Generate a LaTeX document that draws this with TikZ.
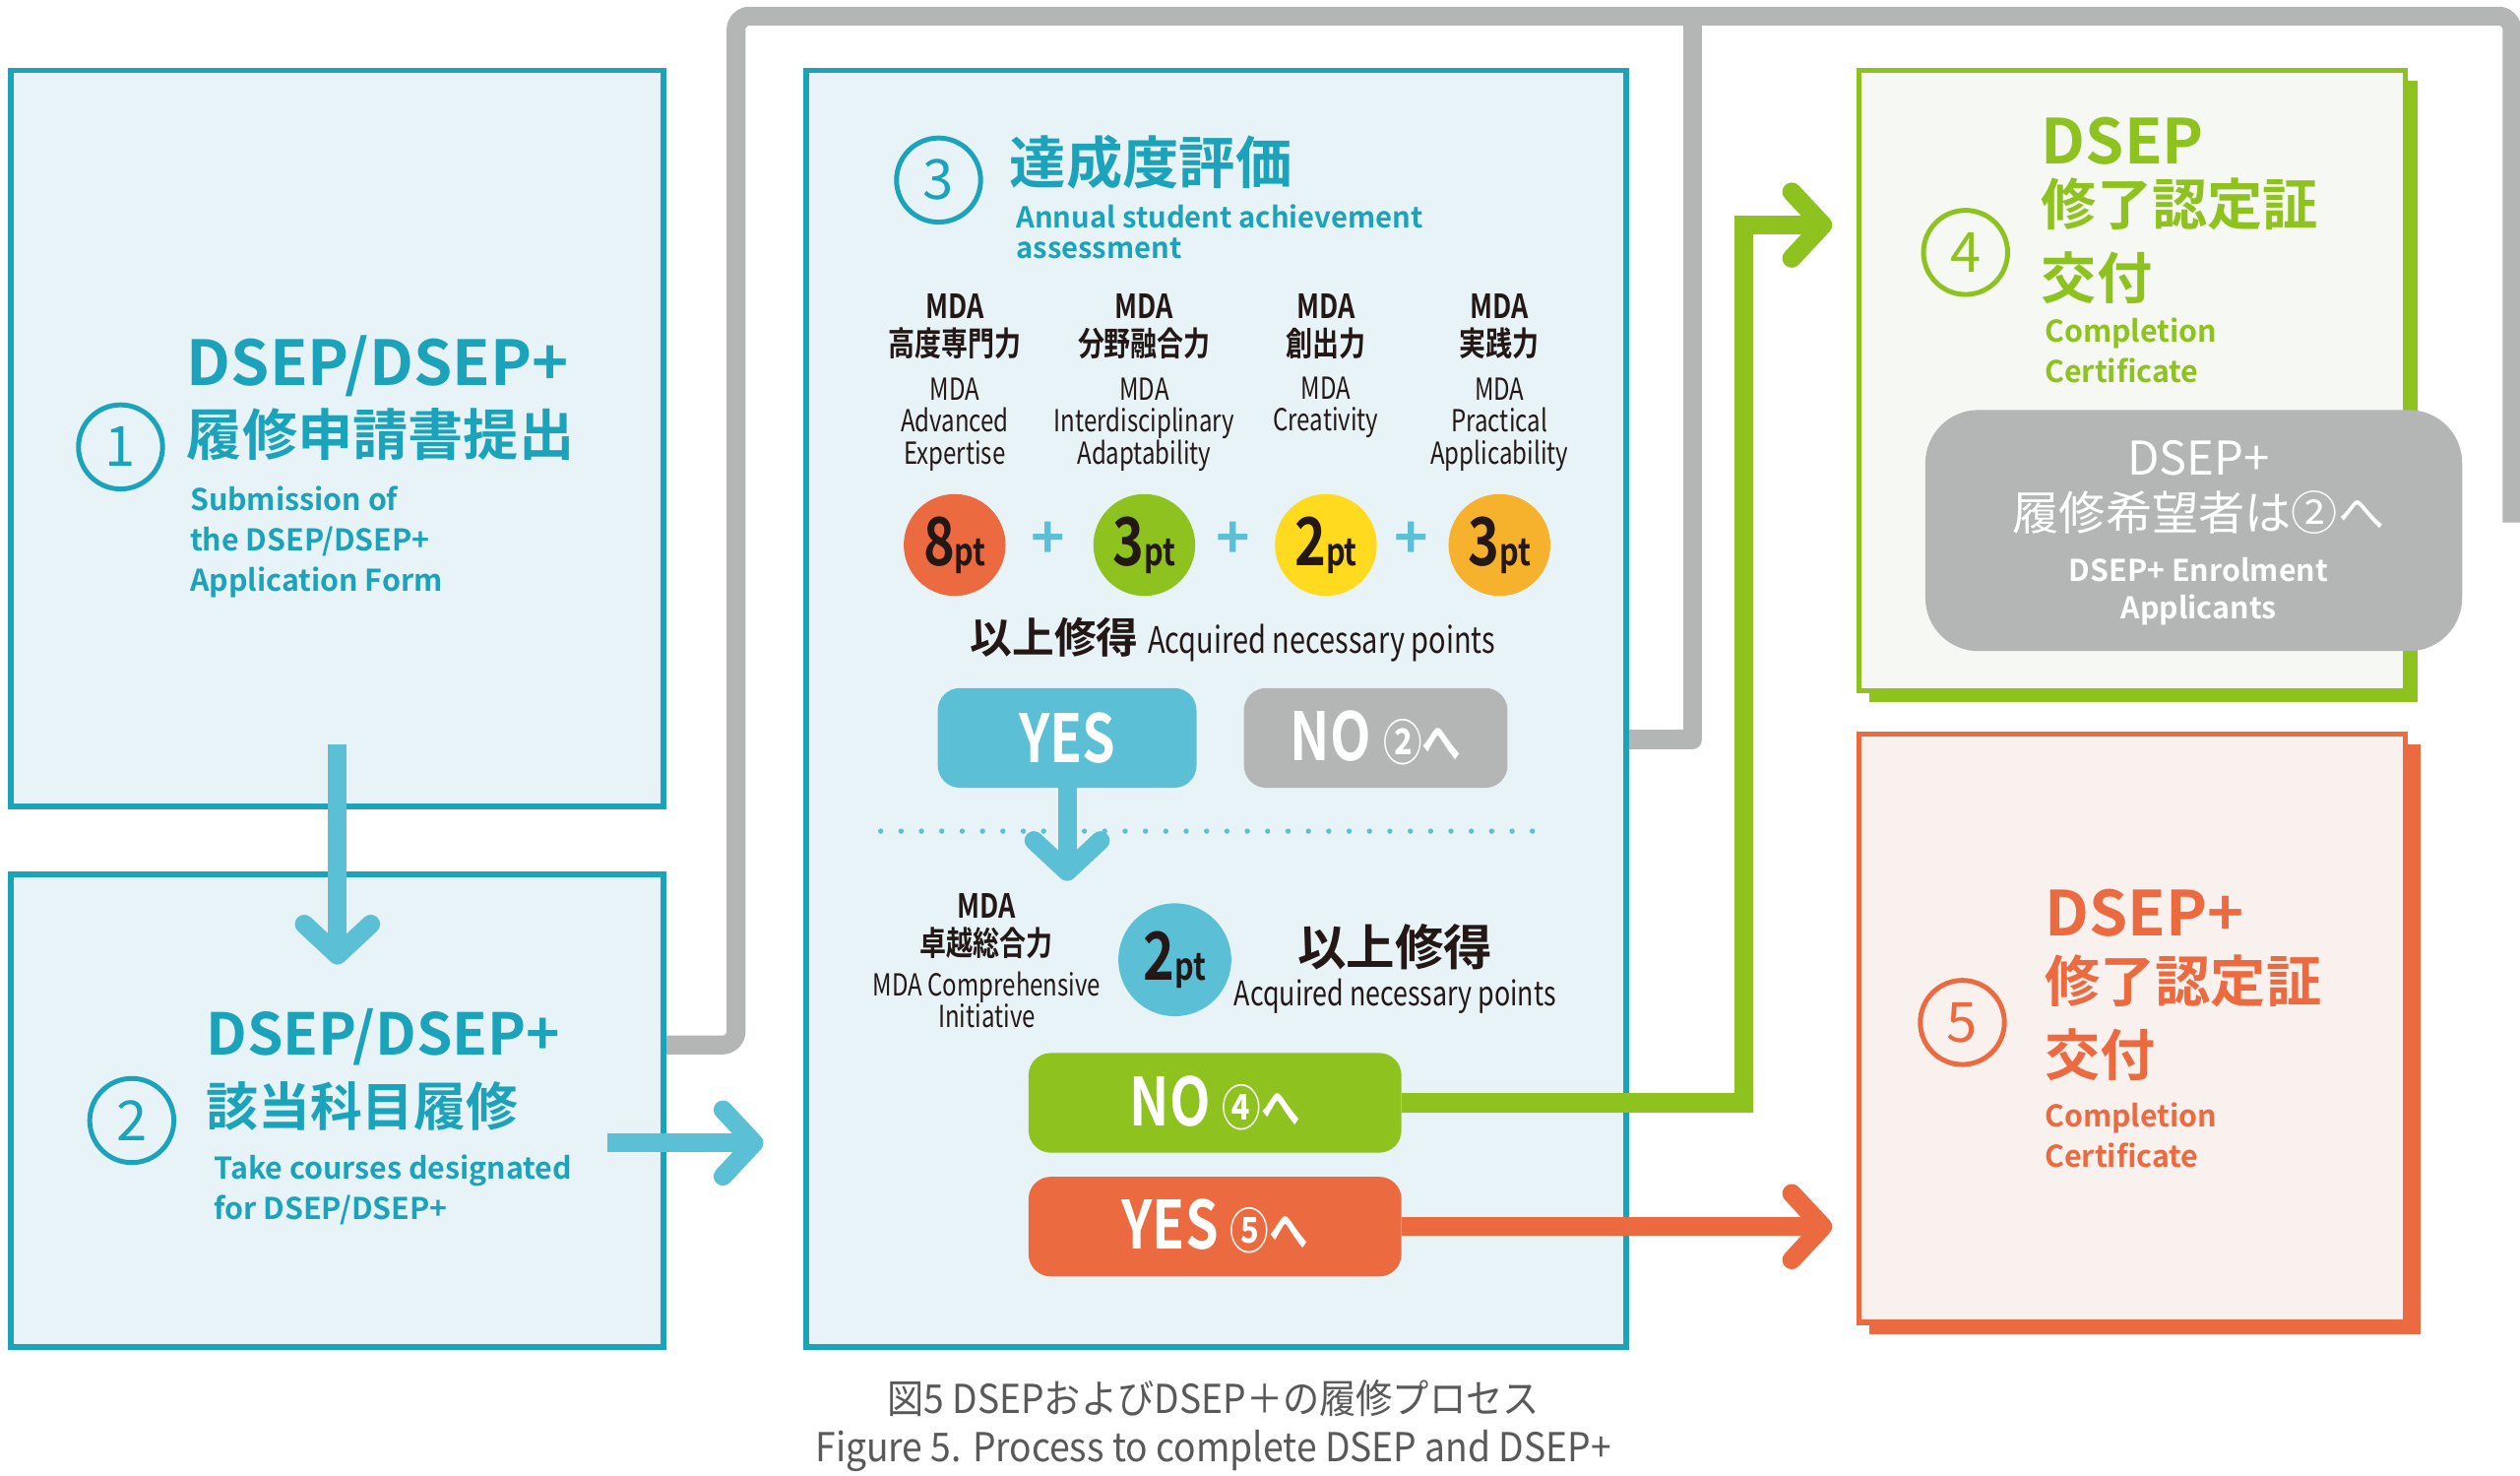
\documentclass[tikz,border=0pt]{standalone}
\usepackage{fontspec}
\setmainfont{Noto Sans CJK JP}
\newfontfamily\jb{Noto Sans CJK JP}[BoldFont={* Bold}]
\newfontfamily\cnd{Noto Sans CJK JP}[FakeStretch=0.78]
\newfontfamily\cndb{Noto Sans CJK JP Bold}[FakeStretch=0.8]
\newfontfamily\capf{Noto Sans CJK JP}[FakeStretch=0.92]
\usetikzlibrary{arrows.meta}
\definecolor{teal}{HTML}{1AA3BA}
\definecolor{lteal}{HTML}{5BC0D6}
\definecolor{bgb}{HTML}{E8F3F7}
\definecolor{grn}{HTML}{8DC21F}
\definecolor{bgg}{HTML}{F6F8F3}
\definecolor{org}{HTML}{EC6A3F}
\definecolor{bgo}{HTML}{F8F1EE}
\definecolor{gry}{HTML}{B4B5B5}
\definecolor{ylw}{HTML}{FFDA1F}
\definecolor{amb}{HTML}{F6B12D}
\definecolor{ink}{HTML}{231815}
\newcommand{\fz}[1]{\fontsize{#1pt}{\fpeval{1.2*#1}pt}\selectfont}
\newcommand{\fl}[2]{\fontsize{#2pt}{\fpeval{#1*#2}pt}\selectfont}
\begin{document}
\begin{tikzpicture}[x=0.726pt,y=-0.726pt,
  box/.style={draw=teal,fill=bgb,line width=2.5pt},
  num/.style={circle,draw=#1,line width=2.2pt,text=#1,minimum size=38pt,inner sep=0pt,font=\jb\fz{25}},
  pt/.style={circle,fill=#1,minimum size=46pt,inner sep=0pt,text=ink},
  btn/.style={rounded corners=10pt,fill=#1,text=white,minimum height=45pt,inner sep=0pt,font=\cndb\fz{30}},
  conn/.style={line width=8.5pt,#1},
  hd/.style={-{Straight Barb[length=14pt,width=30pt,line cap=round,round]},line cap=butt},
  txt/.style={anchor=west,align=left,inner sep=0pt}]
\useasboundingbox (0,0) rectangle (1568,918);
% gray feedback lines
\draw[conn=gry,line join=round,rounded corners=6pt] (1563,325) -- (1563,10) -- (458,10) -- (458,650) -- (380,650);
\draw[conn=gry,line join=round] (1053,10) -- (1053,460) -- (930,460);
\draw[conn=gry,hd] (420,650) -- (372,650);
% boxes
\node[box,minimum width=406*0.726pt,minimum height=458*0.726pt,anchor=north west] (b1) at (5,42) {};
\node[box,minimum width=406*0.726pt,minimum height=294*0.726pt,anchor=north west] (b2) at (5,542) {};
\node[box,minimum width=510*0.726pt,minimum height=794*0.726pt,anchor=north west] (b3) at (500,42) {};
\fill[grn] (1163,50) rectangle (1504,437);
\node[draw=grn,fill=bgg,line width=2.5pt,minimum width=340*0.726pt,minimum height=386*0.726pt,anchor=north west] (b4) at (1155,42) {};
\fill[org] (1163,463) rectangle (1506,830);
\node[draw=org,fill=bgo,line width=2.5pt,minimum width=340*0.726pt,minimum height=366*0.726pt,anchor=north west] (b5) at (1155,455) {};
% box1
\node[num=teal] (n1) at (75,278) {1};
\node[txt,text=teal,font={\jb\bfseries\fz{28}}] (t1a) at (116,228) {DSEP/DSEP+};
\node[txt,text=teal,font={\jb\bfseries\fz{25}}] (t1b) at (116,270) {履修申請書提出};
\node[txt,text=teal,font={\jb\bfseries\fl{1.35}{13.5}}] (t1c) at (118,337) {Submission of\\the DSEP/DSEP+\\Application Form};
% box2
\node[num=teal] (n2) at (82,697) {2};
\node[txt,text=teal,font={\jb\bfseries\fz{26}}] (t2a) at (128,645) {DSEP/DSEP+};
\node[txt,text=teal,font={\jb\bfseries\fz{23.5}}] (t2b) at (128,688) {該当科目履修};
\node[txt,text=teal,font={\jb\bfseries\fl{1.35}{13.5}}] (t2c) at (133,740) {Take courses designated\\for DSEP/DSEP+};
\coordinate (a1s) at (210,463); \coordinate (a1e) at (210,600);
\draw[conn=lteal,hd] (a1s) -- (a1e);
\coordinate (a2s) at (378,711); \coordinate (a2e) at (475,711);
\draw[conn=lteal,hd] (a2s) -- (a2e);
% box3
\node[num=teal] (n3) at (584,112) {3};
\node[txt,text=teal,font={\jb\bfseries\fz{25.5}}] (t3a) at (628,101) {達成度評価};
\node[txt,text=teal,font={\jb\bfseries\fl{1.05}{13}}] (t3b) at (632,144) {Annual student achievement\\assessment};
\foreach \x/\k/\e/\c/\p/\nm in {594/高度専門力/{MDA\\Advanced\\Expertise}/org/8/p1,712/分野融合力/{MDA\\Interdisciplinary\\Adaptability}/grn/3/p2,825/創出力/{MDA\\Creativity\\\strut}/ylw/2/p3,933/実践力/{MDA\\Practical\\Applicability}/amb/3/p4}{
  \node[font={\cndb\fl{1.12}{15}},text=ink,align=center,inner sep=0pt] (\nm h) at (\x,203) {MDA\\\k};
  \node[font={\cnd\fl{1.05}{13.7}},text=ink,align=center,inner sep=0pt] (\nm e) at (\x,264) {\e};
  \node[pt=\c] (\nm) at (\x,339) {\cndb\fz{30}\p\fz{17}pt};
}
\foreach \x/\nm in {652/q1,767/q2,878/q3}{\node[text=lteal,font={\jb\bfseries\fz{26}}] (\nm) at (\x,336) {+};}
\node[font={\jb\bfseries\fz{19}},text=ink] (t3c) at (767,398) {以上修得 {\cnd\mdseries\fz{16.5}Acquired necessary points}};
\node[btn=lteal,minimum width=161*0.726pt] (yes1) at (664,459) {YES};
\node[btn=gry,minimum width=164*0.726pt] (no1) at (856,459) {NO {\fz{22}②へ}};
\draw[draw=lteal,line width=2.4pt,line cap=round,dash pattern=on 0pt off 9.2pt] (548,517) -- (965,517);
\coordinate (ydn) at (664,548);
\draw[conn=lteal,hd] (yes1.south) -- (ydn);
\node[font={\cndb\fl{1.12}{15}},text=ink,align=center,inner sep=0pt] (t3d) at (614,576) {MDA\\卓越総合力};
\node[font={\cnd\fl{1.05}{13.7}},text=ink,align=center,inner sep=0pt] (t3e) at (614,622) {MDA Comprehensive\\Initiative};
\node[pt=lteal,minimum size=51pt] (p5) at (731,597) {\cndb\fz{30}2\fz{17}pt};
\node[font={\jb\bfseries\fz{22}},text=ink] (t3f) at (868,589) {以上修得};
\node[font={\cnd\fz{15.3}},text=ink] (t3g) at (868,620) {Acquired necessary points};
\node[btn=grn,minimum width=232*0.726pt] (no2) at (756,686) {NO {\fz{22}④へ}};
\node[btn=org,minimum width=232*0.726pt] (yes2) at (756,763) {YES {\fz{22}⑤へ}};
% green / orange connectors
\coordinate (g1) at (1085,686); \coordinate (g2) at (1085,140); \coordinate (g3) at (1140,140);
\draw[conn=grn] (no2.east) -- (g1) -- (g2) -- (1120,140);
\draw[conn=grn,hd] (1100,140) -- (g3);
\coordinate (o1) at (1140,763);
\draw[conn=org,hd] (yes2.east) -- (o1);
% box4
\node[num=grn] (n4) at (1223,157) {4};
\node[txt,text=grn,font={\jb\bfseries\fz{28}}] (t4a) at (1270,88) {DSEP};
\node[txt,text=grn,font={\jb\bfseries\fl{1.33}{25}}] (t4b) at (1270,150) {修了認定証\\交付};
\node[txt,text=grn,font={\jb\bfseries\fl{1.34}{13.5}}] (t4c) at (1272,218) {Completion\\Certificate};
\node[fill=gry,rounded corners=24pt,minimum width=334*0.726pt,minimum height=150*0.726pt] (g4) at (1365,330) {};
\node[text=white,font={\jb\fl{1.18}{21}},align=center] (g4a) at (1368,303) {DSEP+\\履修希望者は②へ};
\node[text=white,font={\jb\bfseries\fl{1.24}{13.5}},align=center] (g4b) at (1368,368) {DSEP+ Enrolment\\Applicants};
% box5
\node[num=org] (n5) at (1221,636) {5};
\node[txt,text=org,font={\jb\bfseries\fz{28}}] (t5a) at (1272,568) {DSEP+};
\node[txt,text=org,font={\jb\bfseries\fl{1.33}{25}}] (t5b) at (1272,633) {修了認定証\\交付};
\node[txt,text=org,font={\jb\bfseries\fl{1.34}{13.5}}] (t5c) at (1272,706) {Completion\\Certificate};
% caption
\node[text=black!65,font={\capf\fl{1.2}{18}},align=center] (cap) at (755,887) {図5 DSEPおよびDSEP＋の履修プロセス\\Figure 5. Process to complete DSEP and DSEP+};
\end{tikzpicture}
\end{document}
